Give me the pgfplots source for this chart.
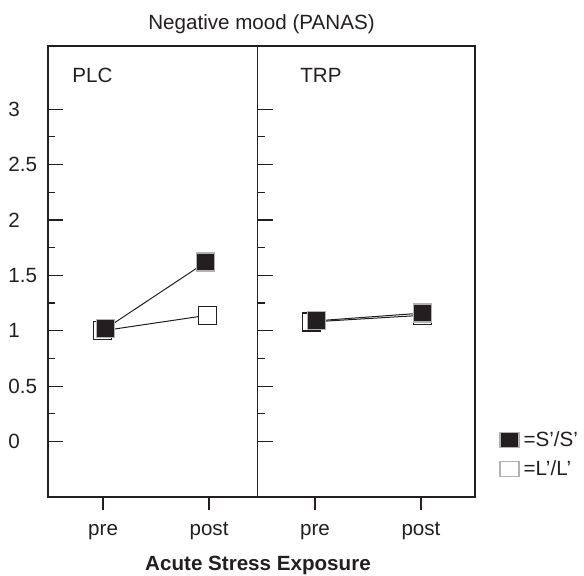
\documentclass[border=0pt]{standalone}
\usepackage{pgfplots}
\pgfplotsset{compat=1.18}
\usepackage{fontspec}
\setmainfont{Liberation Sans}
\definecolor{fg}{HTML}{231F20}
\newcommand{\fs}{\fontsize{10.3}{12}\selectfont}

\begin{document}
\begin{tikzpicture}[font=\fs, text=fg]
\useasboundingbox (-24pt,-39pt) rectangle (268pt,248.5pt);
\begin{axis}[
    at={(0pt,0pt)}, anchor=south west,
    scale only axis, width=213.5pt, height=225.5pt,
    xmin=-0.04, xmax=8.02, ymin=-0.5, ymax=3.57,
    clip=false,
    axis line style={fg, line width=0.75pt},
    xtick=\empty,
    ytick={0,0.5,1,1.5,2,2.5,3},
    minor ytick={0.25,0.75,1.25,1.75,2.25,2.75},
    ytick pos=left,
    tick align=inside,
    major tick length=7.5pt, minor tick length=3.5pt,
    tick style={fg, line width=0.6pt},
    tick label style={font=\fs, text=fg},
    yticklabel style={anchor=west, inner sep=0pt, xshift=-20pt},
    /pgf/number format/assume math mode=true,
    legend style={at={(1.0562,0.094)}, anchor=west, draw=none, fill=none,
        inner sep=0pt, font=\fs, text=fg, row sep=5.5pt,
        nodes={inner xsep=2pt, inner ysep=0pt}},
    legend cell align=left,
]
% L'/L' (white)
\addplot[fg, line width=0.5pt, mark=square*, mark size=4.5pt,
    mark options={fill=white, draw=fg, line width=0.6pt}, forget plot]
    coordinates {(0.99,1.00) (2.97,1.14)};
\addplot[fg, line width=0.5pt, mark=square*, mark size=4.5pt,
    mark options={fill=white, draw=fg, line width=0.6pt}, forget plot]
    coordinates {(4.94,1.08) (7.03,1.14)};
% S'/S' (black)
\addplot[fg, line width=0.5pt, mark=square*, mark size=4.5pt,
    mark options={fill=fg, draw=gray!60, line width=0.6pt}, forget plot]
    coordinates {(1.05,1.02) (2.94,1.62)};
\addplot[fg, line width=0.5pt, mark=square*, mark size=4.5pt,
    mark options={fill=fg, draw=gray!60, line width=0.6pt}, forget plot]
    coordinates {(5.03,1.09) (7.03,1.16)};

\addlegendimage{legend image code/.code={
    \draw[fill=fg, draw=gray!60, line width=0.6pt] (0pt,-3.75pt) rectangle (9.5pt,3.75pt);}}
\addlegendentry{=S’/S’}
\addlegendimage{legend image code/.code={
    \draw[fill=white, draw=gray!60, line width=0.6pt] (0pt,-3.75pt) rectangle (9.5pt,3.75pt);}}
\addlegendentry{=L’/L’}

% x ticks (outside) and labels
\draw[fg, line width=0.6pt] (axis cs:1,-0.5) -- ([yshift=-6.5pt]axis cs:1,-0.5);
\draw[fg, line width=0.6pt] (axis cs:3,-0.5) -- ([yshift=-6.5pt]axis cs:3,-0.5);
\draw[fg, line width=0.6pt] (axis cs:5,-0.5) -- ([yshift=-6.5pt]axis cs:5,-0.5);
\draw[fg, line width=0.6pt] (axis cs:7,-0.5) -- ([yshift=-6.5pt]axis cs:7,-0.5);
\node[anchor=base, yshift=-19pt] at (axis cs:1,-0.5) {pre};
\node[anchor=base, yshift=-19pt] at (axis cs:3,-0.5) {post};
\node[anchor=base, yshift=-19pt] at (axis cs:5,-0.5) {pre};
\node[anchor=base, yshift=-19pt] at (axis cs:7,-0.5) {post};
\end{axis}

% right panel: its left edge is the separator, with inward ticks
\begin{axis}[
    at={(104.85pt,0pt)}, anchor=south west,
    scale only axis, width=108.65pt, height=225.5pt,
    xmin=0, xmax=1, ymin=-0.5, ymax=3.57,
    hide x axis,
    axis line style={fg, line width=0.75pt},
    ytick={0,0.5,1,1.5,2,2.5,3},
    minor ytick={0.25,0.75,1.25,1.75,2.25,2.75},
    ytick pos=left,
    yticklabels={},
    tick align=inside,
    major tick length=7.5pt, minor tick length=3.5pt,
    tick style={fg, line width=0.6pt},
]
\end{axis}

\node[anchor=base] at (106.75pt,234pt) {Negative mood (PANAS)};
\node[anchor=base west, inner sep=0pt] at (12pt,207.5pt) {PLC};
\node[anchor=base west, inner sep=0pt] at (126pt,207.5pt) {TRP};
\node[anchor=base, font=\fs\bfseries] at (105pt,-36.5pt) {Acute Stress Exposure};
\end{tikzpicture}
\end{document}
